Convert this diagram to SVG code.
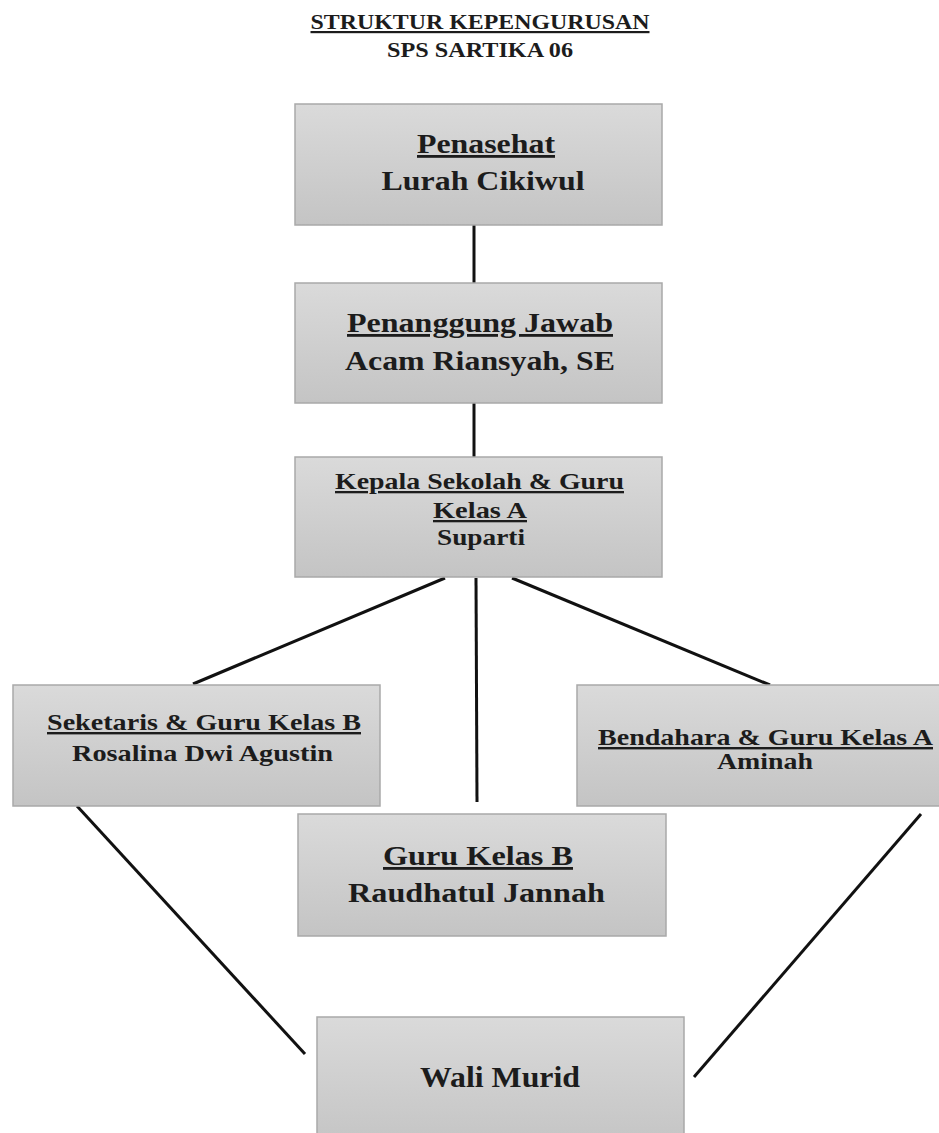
<svg xmlns="http://www.w3.org/2000/svg" width="939" height="1133" viewBox="0 0 939 1133">
<defs>
<linearGradient id="g" x1="0" y1="0" x2="0" y2="1">
<stop offset="0" stop-color="#dadada"/>
<stop offset="1" stop-color="#c4c4c4"/>
</linearGradient>
<style>
.box{fill:url(#g);stroke:#a9a9a9;stroke-width:1.5}
.t{font-family:"Liberation Serif","Times New Roman",serif;font-weight:bold;fill:#1c1c1c;text-anchor:middle}
.u{text-decoration:underline}
.c{stroke:#111;stroke-width:3;fill:none;stroke-linecap:butt}
</style>
</defs>
<rect width="939" height="1133" fill="#fff"/>
<g id="title">
<text class="t u" x="480" y="29" font-size="22" textLength="339" lengthAdjust="spacingAndGlyphs">STRUKTUR KEPENGURUSAN</text>
<text class="t" x="480" y="57" font-size="22" textLength="186" lengthAdjust="spacingAndGlyphs">SPS SARTIKA 06</text>
</g>
<g id="connectors">
<line class="c" x1="474" y1="225" x2="474" y2="284"/>
<line class="c" x1="474" y1="403" x2="474" y2="457"/>
<line class="c" x1="445" y1="578" x2="193" y2="684"/>
<line class="c" x1="476" y1="578" x2="477" y2="802"/>
<line class="c" x1="512" y1="578" x2="770" y2="685"/>
<line class="c" x1="77" y1="806" x2="305" y2="1054"/>
<line class="c" x1="921" y1="814" x2="694" y2="1077"/>
</g>
<g id="penasehat">
<rect class="box" x="295" y="104" width="367" height="121"/>
<text class="t u" x="486" y="153" font-size="28" textLength="138" lengthAdjust="spacingAndGlyphs">Penasehat</text>
<text class="t" x="483" y="190" font-size="28" textLength="203" lengthAdjust="spacingAndGlyphs">Lurah Cikiwul</text>
</g>
<g id="penanggung-jawab">
<rect class="box" x="295" y="283" width="367" height="120"/>
<text class="t u" x="480" y="332" font-size="28" textLength="266" lengthAdjust="spacingAndGlyphs">Penanggung Jawab</text>
<text class="t" x="480" y="370" font-size="28" textLength="270" lengthAdjust="spacingAndGlyphs">Acam Riansyah, SE</text>
</g>
<g id="kepala-sekolah">
<rect class="box" x="295" y="457" width="367" height="120"/>
<text class="t u" x="479.5" y="489" font-size="23" textLength="289" lengthAdjust="spacingAndGlyphs">Kepala Sekolah &amp; Guru</text>
<text class="t u" x="480" y="518" font-size="23" textLength="94" lengthAdjust="spacingAndGlyphs">Kelas A</text>
<text class="t" x="481" y="545" font-size="23" textLength="88" lengthAdjust="spacingAndGlyphs">Suparti</text>
</g>
<g id="seketaris">
<rect class="box" x="13" y="685" width="367" height="121"/>
<text class="t u" x="204" y="730" font-size="24" textLength="314" lengthAdjust="spacingAndGlyphs">Seketaris &amp; Guru Kelas B</text>
<text class="t" x="202.5" y="761" font-size="24" textLength="261" lengthAdjust="spacingAndGlyphs">Rosalina Dwi Agustin</text>
</g>
<g id="bendahara">
<rect class="box" x="577" y="685" width="380" height="121"/>
<text class="t u" x="765.5" y="745" font-size="24" textLength="335" lengthAdjust="spacingAndGlyphs">Bendahara &amp; Guru Kelas A</text>
<text class="t" x="765" y="769" font-size="24" textLength="96" lengthAdjust="spacingAndGlyphs">Aminah</text>
</g>
<g id="guru-kelas-b">
<rect class="box" x="298" y="814" width="368" height="122"/>
<text class="t u" x="478" y="865" font-size="28" textLength="190" lengthAdjust="spacingAndGlyphs">Guru Kelas B</text>
<text class="t" x="476.5" y="902" font-size="28" textLength="257" lengthAdjust="spacingAndGlyphs">Raudhatul Jannah</text>
</g>
<g id="wali-murid">
<rect class="box" x="317" y="1017" width="367" height="130"/>
<text class="t" x="500" y="1087" font-size="29" textLength="160" lengthAdjust="spacingAndGlyphs">Wali Murid</text>
</g>
</svg>
